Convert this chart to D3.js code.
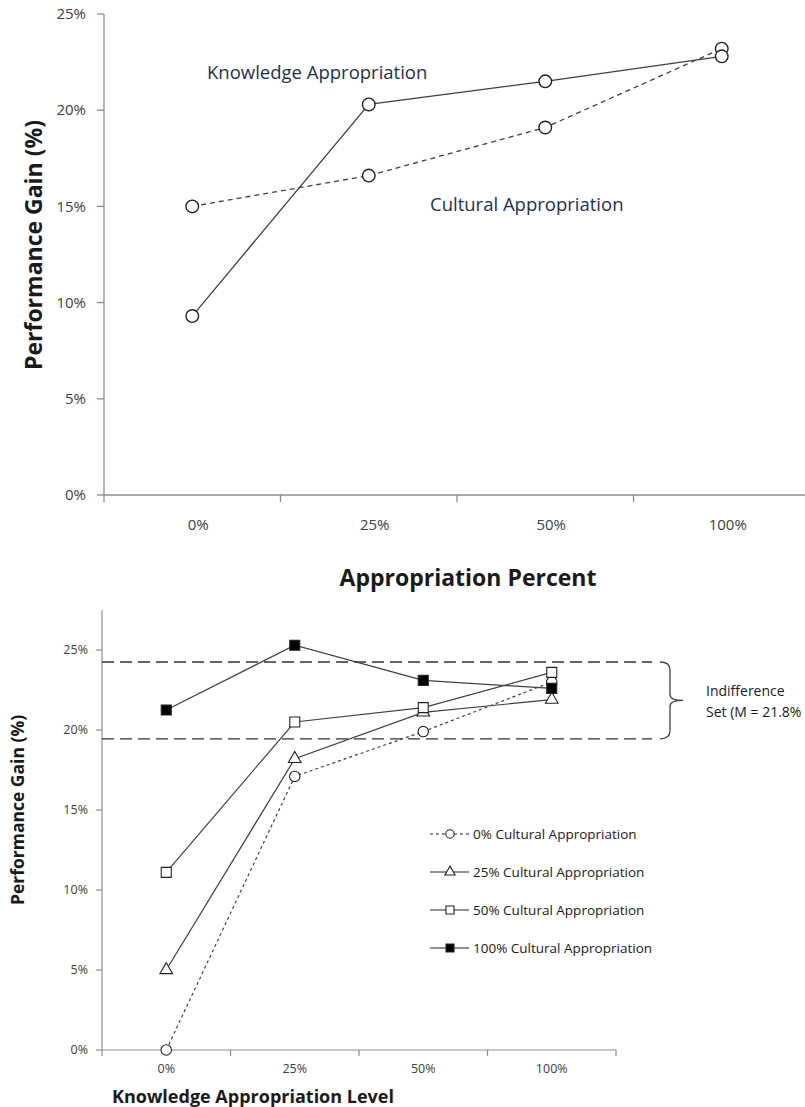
<!DOCTYPE html>
<html><head><meta charset="utf-8">
<script src="https://cdn.jsdelivr.net/npm/d3@7"></script>
<style>
body{margin:0;background:#fff;}
svg{display:block;}
.nar{font-family:"Liberation Sans Narrow","Arial Narrow","Open Sans",sans-serif;}
.reg{font-family:"Open Sans","Noto Sans",sans-serif;}
</style></head>
<body>
<svg id="c" width="805" height="1107"></svg>
<script>
// ---------- Top chart data ----------
const topCategories = ["0%","25%","50%","100%"];
const knowledgeValues = [0.093, 0.203, 0.215, 0.228];
const culturalValues  = [0.150, 0.166, 0.191, 0.232];
const topYTicks = [0, 0.05, 0.10, 0.15, 0.20, 0.25];

// ---------- Bottom chart data ----------
const bottomCategories = ["0%","25%","50%","100%"];
const cult0Values   = [0.000, 0.171, 0.199, 0.230];
const cult25Values  = [0.050, 0.182, 0.211, 0.219];
const cult50Values  = [0.111, 0.205, 0.214, 0.236];
const cult100Values = [0.2125, 0.253, 0.231, 0.226];
const seriesNames = ["0% Cultural Appropriation","25% Cultural Appropriation","50% Cultural Appropriation","100% Cultural Appropriation"];
const indifferenceBounds = [0.2425, 0.1945];
const bottomYTicks = [0, 0.05, 0.10, 0.15, 0.20, 0.25];

const svg = d3.select("#c");
const pct = d3.format(".0%");

// ================= TOP CHART =================
{
  const x = d3.scaleBand().domain(topCategories).range([104, 810]);
  const y = d3.scaleLinear().domain([0, 0.25]).range([495, 14]);
  const g = svg.append("g");
  g.append("line").attr("x1",104).attr("x2",104).attr("y1",y(0.25)).attr("y2",y(0)).attr("stroke","#8c8c8c").attr("stroke-width",1.3);
  topYTicks.forEach(t=>{
    g.append("line").attr("x1",97).attr("x2",104).attr("y1",y(t)).attr("y2",y(t)).attr("stroke","#8c8c8c").attr("stroke-width",1.3);
    g.append("text").attr("class","nar").attr("x",86).attr("y",y(t)).attr("dy","0.35em")
      .attr("text-anchor","end").attr("font-size",15).attr("fill","#404040").text(pct(t));
  });
  g.append("line").attr("x1",104).attr("x2",805).attr("y1",495).attr("y2",495).attr("stroke","#8c8c8c").attr("stroke-width",1.3);
  [104].concat(topCategories.slice(1).map(c=>x(c))).forEach(px=>{
    g.append("line").attr("x1",px).attr("x2",px).attr("y1",495).attr("y2",502).attr("stroke","#8c8c8c").attr("stroke-width",1.3);
  });
  topCategories.forEach(c=>{
    g.append("text").attr("class","nar").attr("x",x(c)+x.bandwidth()/2+6).attr("y",530)
      .attr("text-anchor","middle").attr("font-size",15).attr("fill","#404040").text(c);
  });
  g.append("text").attr("class","nar").attr("transform","translate(42,245) rotate(-90)")
    .attr("text-anchor","middle").attr("font-size",23).attr("font-weight","bold").attr("fill","#1a1a1a").text("Performance Gain (%)");
  g.append("text").attr("class","nar").attr("x",468).attr("y",586)
    .attr("text-anchor","middle").attr("font-size",23).attr("font-weight","bold").attr("fill","#1a1a1a").text("Appropriation Percent");

  const line = d3.line().x((d,i)=>x(topCategories[i])+x.bandwidth()/2).y(d=>y(d));
  g.append("path").datum(culturalValues).attr("d",line).attr("fill","none").attr("stroke","#404040").attr("stroke-width",1.3).attr("stroke-dasharray","5,4");
  g.append("path").datum(knowledgeValues).attr("d",line).attr("fill","none").attr("stroke","#404040").attr("stroke-width",1.3);
  [culturalValues, knowledgeValues].forEach(vals=>{
    g.selectAll(null).data(vals).enter().append("circle")
      .attr("cx",(d,i)=>x(topCategories[i])+x.bandwidth()/2).attr("cy",d=>y(d)).attr("r",6.3)
      .attr("fill","#fff").attr("stroke","#222").attr("stroke-width",1.4);
  });
  g.append("text").attr("class","reg").attr("x",207).attr("y",79).attr("font-size",18.5).attr("fill","#1f2f4f").text("Knowledge Appropriation");
  g.append("text").attr("class","reg").attr("x",430).attr("y",211).attr("font-size",18.5).attr("fill","#1f2f4f").text("Cultural Appropriation");
}

// ================= BOTTOM CHART =================
{
  const x = d3.scaleBand().domain(bottomCategories).range([102, 616]);
  const y = d3.scaleLinear().domain([0, 0.275]).range([1050, 610]);
  const g = svg.append("g");
  g.append("line").attr("x1",102).attr("x2",102).attr("y1",610).attr("y2",1050).attr("stroke","#8c8c8c").attr("stroke-width",1.2);
  bottomYTicks.forEach(t=>{
    g.append("line").attr("x1",96).attr("x2",102).attr("y1",y(t)).attr("y2",y(t)).attr("stroke","#8c8c8c").attr("stroke-width",1.2);
    g.append("text").attr("class","nar").attr("x",88).attr("y",y(t)).attr("dy","0.35em")
      .attr("text-anchor","end").attr("font-size",12.5).attr("fill","#404040").text(pct(t));
  });
  g.append("line").attr("x1",102).attr("x2",616).attr("y1",1050).attr("y2",1050).attr("stroke","#8c8c8c").attr("stroke-width",1.2);
  [102].concat(bottomCategories.slice(1).map(c=>x(c)), [616]).forEach(px=>{
    g.append("line").attr("x1",px).attr("x2",px).attr("y1",1050).attr("y2",1056).attr("stroke","#8c8c8c").attr("stroke-width",1.2);
  });
  bottomCategories.forEach(c=>{
    g.append("text").attr("class","nar").attr("x",x(c)+x.bandwidth()/2).attr("y",1073)
      .attr("text-anchor","middle").attr("font-size",12.5).attr("fill","#404040").text(c);
  });
  g.append("text").attr("class","nar").attr("transform","translate(24,810) rotate(-90)")
    .attr("text-anchor","middle").attr("font-size",17.5).attr("font-weight","bold").attr("fill","#1a1a1a").text("Performance Gain (%)");
  g.append("text").attr("class","nar").attr("x",253).attr("y",1103)
    .attr("text-anchor","middle").attr("font-size",18).attr("font-weight","bold").attr("fill","#1a1a1a").text("Knowledge Appropriation Level");

  indifferenceBounds.forEach(v=>{
    g.append("line").attr("x1",102).attr("x2",652).attr("y1",y(v)).attr("y2",y(v))
      .attr("stroke","#333").attr("stroke-width",1.3).attr("stroke-dasharray","12,6");
  });
  const yt = y(indifferenceBounds[0]), yb = y(indifferenceBounds[1]), ym = (yt+yb)/2;
  g.append("path").attr("d",`M660,${yt} Q670,${yt} 670,${yt+8} L670,${ym-6} Q670,${ym} 683,${ym} Q670,${ym} 670,${ym+6} L670,${yb-8} Q670,${yb} 660,${yb}`)
    .attr("fill","none").attr("stroke","#444").attr("stroke-width",1.3);
  g.append("text").attr("class","reg").attr("x",706).attr("y",696).attr("font-size",14).attr("fill","#1a1a1a").text("Indifference");
  g.append("text").attr("class","reg").attr("x",706).attr("y",717).attr("font-size",14).attr("fill","#1a1a1a").text("Set (M = 21.8%");

  const cx = i => x(bottomCategories[i]) + x.bandwidth()/2;
  const line = d3.line().x((d,i)=>cx(i)).y(d=>y(d));
  const allSeries = [cult0Values, cult25Values, cult50Values, cult100Values];
  const dashes = ["3,3", null, null, null];
  const sym = [d3.symbolCircle, d3.symbolTriangle, d3.symbolSquare, d3.symbolSquare];
  const symSize = [85, 70, 100, 100];
  const legSize = [55, 45, 64, 64];
  const fills = ["#fff","#fff","#fff","#000"];

  allSeries.forEach((vals,k)=>{
    g.append("path").datum(vals).attr("d",line).attr("fill","none").attr("stroke","#404040").attr("stroke-width",1.2)
      .attr("stroke-dasharray",dashes[k]);
  });
  allSeries.forEach((vals,k)=>{
    g.selectAll(null).data(vals).enter().append("path")
      .attr("transform",(d,i)=>`translate(${cx(i)},${y(d)})`)
      .attr("d",d3.symbol().type(sym[k]).size(symSize[k]))
      .attr("fill",fills[k]).attr("stroke","#222").attr("stroke-width",1.1);
  });

  const legY = [834, 872, 910, 948];
  seriesNames.forEach((name,k)=>{
    const ly = legY[k];
    g.append("line").attr("x1",430).attr("x2",469).attr("y1",ly).attr("y2",ly)
      .attr("stroke","#222").attr("stroke-width",1.2).attr("stroke-dasharray",dashes[k]);
    g.append("path").attr("transform",`translate(450,${ly})`)
      .attr("d",d3.symbol().type(sym[k]).size(legSize[k]))
      .attr("fill",fills[k]).attr("stroke","#222").attr("stroke-width",1.1);
    g.append("text").attr("class","nar").attr("x",473).attr("y",ly).attr("dy","0.35em")
      .attr("font-size",13.5).attr("fill","#1a1a1a").text(name);
  });
}
</script>
</body></html>
